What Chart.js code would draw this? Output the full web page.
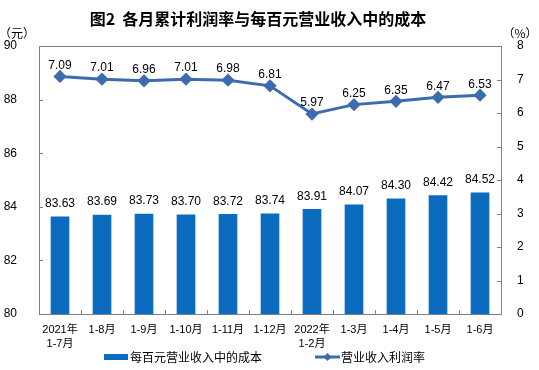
<!DOCTYPE html>
<html><head><meta charset="utf-8">
<script src="https://cdn.jsdelivr.net/npm/chart.js@4/dist/chart.umd.min.js"></script>
<style>html,body{margin:0;padding:0;background:#fff}#wrap{width:539px;height:370px}</style>
</head><body><div id="wrap"><canvas id="c" width="539" height="370"></canvas></div>
<script>
const categories = [["2021年","1-7月"],"1-8月","1-9月","1-10月","1-11月","1-12月",["2022年","1-2月"],"1-3月","1-4月","1-5月","1-6月"];
const costPer100 = [83.63,83.69,83.73,83.70,83.72,83.74,83.91,84.07,84.30,84.42,84.52];
const profitRate = [7.09,7.01,6.96,7.01,6.98,6.81,5.97,6.25,6.35,6.47,6.53];
const leftTicks = [80,82,84,86,88,90];
const rightTicks = [0,1,2,3,4,5,6,7,8];
const titleText = "图2  各月累计利润率与每百元营业收入中的成本";
const costName = "每百元营业收入中的成本";
const rateName = "营业收入利润率";

const BAR = "#0b6cbf", LINE = "#3d6cad", AXIS = "#7f7f7f";
const FONT = "'Liberation Sans', 'Noto Sans CJK SC', sans-serif";
const CJK = "'Noto Sans CJK SC', sans-serif";

const deco = {
  id: 'deco',
  afterDraw(chart) {
    const ctx = chart.ctx, a = chart.chartArea;
    ctx.save();
    ctx.strokeStyle = AXIS; ctx.lineWidth = 1;
    ctx.beginPath(); ctx.moveTo(a.left, a.top + 0.5); ctx.lineTo(a.right, a.top + 0.5); ctx.stroke();
    const y = chart.scales.y, y1 = chart.scales.y1, x = chart.scales.x;
    ctx.beginPath();
    y.ticks.forEach((t, i) => { const p = Math.round(y.getPixelForTick(i)) + 0.5; ctx.moveTo(a.left, p); ctx.lineTo(a.left + 4, p); });
    y1.ticks.forEach((t, i) => { const p = Math.round(y1.getPixelForTick(i)) + 0.5; ctx.moveTo(a.right, p); ctx.lineTo(a.right - 4, p); });
    const n = categories.length, cw = (a.right - a.left) / n;
    for (let i = 1; i < n; i++) { const p = Math.round(x.getPixelForValue(i) - cw / 2) + 0.5; ctx.moveTo(p, a.bottom); ctx.lineTo(p, a.bottom - 4); }
    ctx.stroke();
    ctx.fillStyle = '#000';
    ctx.font = "bold 16px " + CJK; ctx.textAlign = 'center'; ctx.textBaseline = 'middle';
    ctx.fillText(titleText, 258, 19);
    ctx.font = "12px " + CJK;
    ctx.fillText("（元）", 17, 33);
    ctx.fillText("（%）", 520, 33);
    ctx.font = "12px " + FONT; ctx.fillStyle = '#000';
    chart.getDatasetMeta(0).data.forEach((el, i) => { ctx.fillText(costPer100[i].toFixed(2), el.x, el.y - 13); });
    chart.getDatasetMeta(1).data.forEach((el, i) => { ctx.fillText(profitRate[i].toFixed(2), el.x, el.y - 11); });
    ctx.fillStyle = BAR; ctx.fillRect(104, 354, 24, 6);
    ctx.fillStyle = '#000'; ctx.textAlign = 'left'; ctx.font = "12px " + CJK;
    ctx.fillText(costName, 130, 357);
    ctx.strokeStyle = LINE; ctx.lineWidth = 3;
    ctx.beginPath(); ctx.moveTo(315, 357); ctx.lineTo(340, 357); ctx.stroke();
    ctx.fillStyle = LINE; ctx.beginPath(); ctx.moveTo(327.5, 353); ctx.lineTo(331.5, 357); ctx.lineTo(327.5, 361); ctx.lineTo(323.5, 357); ctx.closePath(); ctx.fill();
    ctx.fillStyle = '#000'; ctx.fillText(rateName, 341, 357);
    ctx.restore();
  }
};

new Chart(document.getElementById('c'), {
  data: {
    labels: categories,
    datasets: [
      { type: 'bar', label: costName, data: costPer100, backgroundColor: BAR, yAxisID: 'y', barThickness: 18, order: 2 },
      { type: 'line', label: rateName, data: profitRate, borderColor: LINE, backgroundColor: LINE, borderWidth: 3,
        pointStyle: 'rectRot', pointRadius: 4.5, pointHoverRadius: 4.5, yAxisID: 'y1', order: 1, tension: 0 }
    ]
  },
  options: {
    responsive: false, animation: false, devicePixelRatio: 1,
    layout: { padding: { top: 46, left: 0, right: 0, bottom: 0 } },
    plugins: { legend: { display: false }, title: { display: false }, tooltip: { enabled: false } },
    scales: {
      x: { type: 'category', offset: true,
        grid: { display: false },
        border: { display: true, color: AXIS, width: 1 },
        ticks: { color: '#000', font: { family: FONT, size: 11, lineHeight: 1.36 }, padding: 0, maxRotation: 0, autoSkip: false },
        afterFit: s => { s.height = 56; } },
      y: { position: 'left', min: 80, max: 90, afterBuildTicks: s => { s.ticks = leftTicks.map(v => ({ value: v })); },
        grid: { display: false }, border: { display: true, color: AXIS, width: 1 },
        ticks: { color: '#000', font: { family: FONT, size: 12 }, padding: 14 },
        afterFit: s => { s.width = 39; } },
      y1: { position: 'right', min: 0, max: 8, afterBuildTicks: s => { s.ticks = rightTicks.map(v => ({ value: v })); },
        grid: { display: false }, border: { display: true, color: AXIS, width: 1 },
        ticks: { color: '#000', font: { family: FONT, size: 12 }, padding: 8 },
        afterFit: s => { s.width = 38; } }
    }
  },
  plugins: [deco]
});
</script></body></html>
